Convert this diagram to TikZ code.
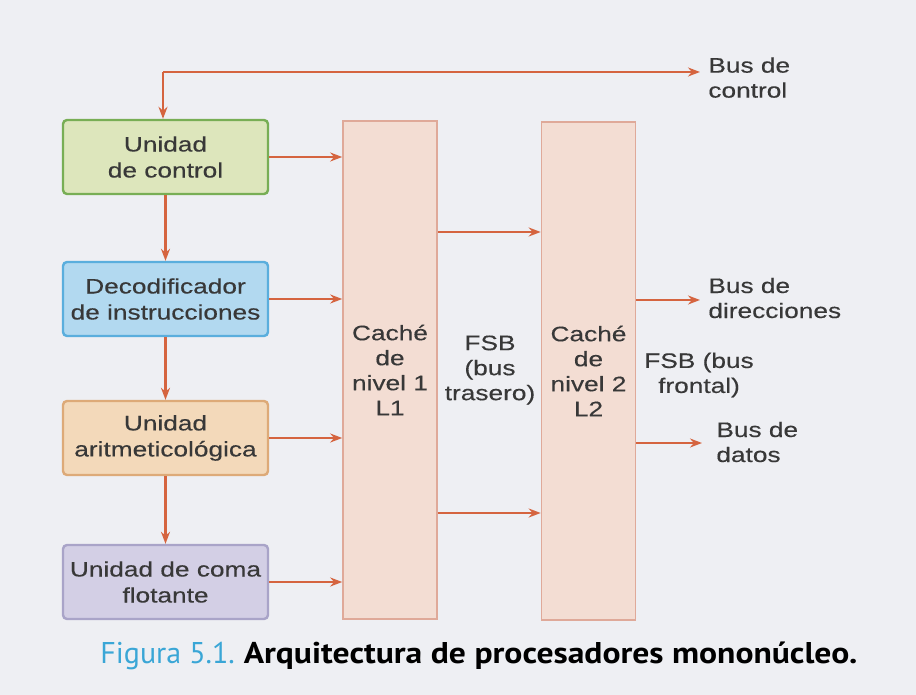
\documentclass[tikz,border=0pt]{standalone}
\usepackage{fontspec}
\setmainfont{Liberation Sans}[FakeStretch=1.25, FakeBold=0.3]
\newfontfamily\capfont{PT Sans}[FakeStretch=1.12]
\newfontfamily\figfont{PT Sans}
\usepackage{tikz}
\usetikzlibrary{positioning, arrows.meta, calc}

\definecolor{paper}{HTML}{EEEFF3}
\definecolor{ink}{HTML}{383838}
\definecolor{busred}{HTML}{D5643F}
\definecolor{ucfill}{HTML}{DDE6BC}
\definecolor{ucline}{HTML}{78AE55}
\definecolor{decfill}{HTML}{B2D9F0}
\definecolor{decline}{HTML}{5AAEDD}
\definecolor{alufill}{HTML}{F3D9BA}
\definecolor{aluline}{HTML}{DDAA78}
\definecolor{fpufill}{HTML}{D3CFE5}
\definecolor{fpuline}{HTML}{A9A4C8}
\definecolor{cachefill}{HTML}{F3DDD3}
\definecolor{cacheline}{HTML}{DFA999}
\definecolor{figblue}{HTML}{3AA6D6}

\tikzset{
    unit/.style={draw, rounded corners=2pt, line width=1.2pt, text=ink,
        minimum width=102.5pt, minimum height=37pt, inner sep=1pt, align=center,
        font=\fontsize{10.5}{13}\selectfont},
    cache/.style={draw=cacheline, fill=cachefill, line width=0.8pt, text=ink,
        minimum width=47pt, minimum height=249pt, inner sep=0pt, align=center,
        font=\fontsize{10.5}{12.5}\selectfont},
    bus/.style={draw=busred, line width=1.2pt, -{Stealth[length=6pt,width=4.5pt]}},
    buslabel/.style={text=ink, inner sep=0pt, align=left,
        font=\fontsize{10.5}{12.5}\selectfont},
}

\begin{document}
\begin{tikzpicture}[x=0.5pt, y=-0.5pt]
    % paper
    \fill[paper] (0,0) rectangle (916,695);
    \useasboundingbox (0,0) rectangle (916,695);

    % functional units
    \node[unit, draw=ucline, fill=ucfill] (uc) at (165.5,157) {Unidad\\de control};
    \node[unit, draw=decline, fill=decfill] (dec) at (165.5,299) {Decodificador\\de instrucciones};
    \node[unit, draw=aluline, fill=alufill] (alu) at (165.5,438) {Unidad\\aritmeticológica};
    \node[unit, draw=fpuline, fill=fpufill] (fpu) at (165.5,582) {Unidad de coma\\flotante};

    % caches
    \node[cache] (l1) at (390,370) {Caché\\de\\nivel 1\\L1};
    \node[cache] (l2) at (588.5,371) {Caché\\de\\nivel 2\\L2};

    % bus texts
    \node[buslabel, anchor=north west] (bctl) at (708,57) {Bus de\\control};
    \node[buslabel, anchor=west] (bdir) at (708,298) {Bus de\\direcciones};
    \node[buslabel, anchor=west] (bdat) at (716,442) {Bus de\\datos};
    \node[buslabel, align=center] (fsbb) at (490,370) {FSB\\(bus\\trasero)};
    \node[buslabel, align=center] (fsbf) at (699,375) {FSB (bus\\frontal)};

    % bus ends
    \coordinate (corner) at (163,72);
    \coordinate (ctlend) at (700,72);
    \coordinate (dirend) at (700,300);
    \coordinate (datend) at (702,443);
    \coordinate (fsbtop) at (0,232);
    \coordinate (fsbbot) at (0,513);

    % control bus
    \draw[bus] (corner) -- (ctlend);
    \draw[bus] (corner) -- (corner |- uc.north);

    % units down the chain
    \foreach \upper/\lower in {uc/dec, dec/alu, alu/fpu}
    {
        \draw[bus] (\upper.south) -- (\lower.north);
    }

    % units to L1
    \foreach \unit in {uc, dec, alu, fpu}
    {
        \draw[bus] (\unit.east) -- (\unit.east -| l1.west);
    }

    % back side bus
    \foreach \lvl in {fsbtop, fsbbot}
    {
        \draw[bus] (l1.east |- \lvl) -- (l2.west |- \lvl);
    }

    % front side bus
    \draw[bus] (l2.east |- dirend) -- (dirend);
    \draw[bus] (l2.east |- datend) -- (datend);

    % caption
    \node[anchor=west, inner sep=0pt, font=\capfont\fontsize{15}{16}\selectfont] (cap) at (100,656)
        {{\figfont\color{figblue}Figura 5.1.}\hspace{0.3em}\textbf{Arquitectura de procesadores mononúcleo.}};
\end{tikzpicture}
\end{document}
